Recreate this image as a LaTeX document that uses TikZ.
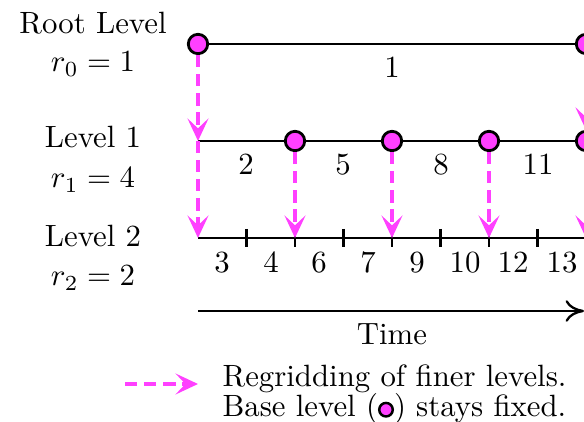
\documentclass[tikz,border=0pt]{standalone}
\usetikzlibrary{arrows.meta}
\definecolor{regrid}{RGB}{255,64,255}
\tikzset{
  lvl/.style={line width=0.75pt},
  fixedpt/.style={circle,draw=black,fill=regrid,line width=0.9pt,minimum size=6.3pt,inner sep=0pt},
  smallpt/.style={circle,draw=black,fill=regrid,line width=0.8pt,minimum size=4.4pt,inner sep=0pt},
  regridarrow/.style={draw=regrid,line width=1.2pt,dash pattern=on 4pt off 2.2pt,
     -{Stealth[length=7.3pt,width=6.8pt,inset=3.2pt,fill=regrid]}},
  tickmark/.style={line width=0.75pt},
  lab/.style={anchor=base,inner sep=0pt},
  timearrow/.style={line width=0.75pt,-{Computer Modern Rightarrow[length=6pt,width=7pt]}}
}
\begin{document}
\begin{tikzpicture}[x=0.3247pt,y=-0.3247pt]
\useasboundingbox (0,0) rectangle (584,422);

% left labels
\node[lab] (t0) at (93,34) {Root Level};
\node[lab] (t0r) at (93,72) {$r_0 = 1$};
\node[lab] (t1) at (93,148) {Level 1};
\node[lab] (t1r) at (93,188) {$r_1 = 4$};
\node[lab] (t2) at (93,247) {Level 2};
\node[lab] (t2r) at (93,286) {$r_2 = 2$};

% root level
\node[fixedpt] (r0a) at (198,44) {};
\node[fixedpt] (r0b) at (586,44) {};
\draw[lvl] (r0a) -- (r0b);
\node[lab] (n1) at (392,78) {1};

% level 1
\coordinate (l1s) at (198,141);
\node[fixedpt] (l1a) at (295,141) {};
\node[fixedpt] (l1b) at (392,141) {};
\node[fixedpt] (l1c) at (489,141) {};
\node[fixedpt] (l1d) at (586,141) {};
\draw[lvl] (l1s) -- (l1a) -- (l1b) -- (l1c) -- (l1d);
\node[lab] (n2) at (246,175) {2};
\node[lab] (n5) at (343,175) {5};
\node[lab] (n8) at (441,175) {8};
\node[lab] (n11) at (538,175) {11};

% level 2
\coordinate (l2s) at (198,238);
\coordinate (l2e) at (586,238);
\draw[lvl] (l2s) -- (l2e);
\foreach \x/\n in {246.5/ta,295/tb,343.5/tc,392/td,440.5/te,489/tf,537.5/tg,586/th}{
  \coordinate (\n) at (\x,238);
  \draw[tickmark] ([yshift=9*0.3247pt]\n) -- ([yshift=-9*0.3247pt]\n);
}
\foreach \x/\t in {222/3,271/4,319/6,368/7,417/9,465/10,513/12,562/13}{
  \node[lab] at (\x,273) {\t};
}

% regridding arrows
\draw[regridarrow] (r0a) -- (l1s);
\draw[regridarrow] (r0b) -- (l1d);
\draw[regridarrow] (l1s) -- (l2s);
\draw[regridarrow] (l1a) -- (tb);
\draw[regridarrow] (l1b) -- (td);
\draw[regridarrow] (l1c) -- (tf);
\draw[regridarrow] (l1d) -- (th);

% time axis
\coordinate (ts) at (198,311);
\coordinate (te) at (584,311);
\draw[timearrow] (ts) -- (te);
\node[lab] (time) at (392,345) {Time};

% legend
\coordinate (lg1) at (125,384);
\coordinate (lg2) at (198,384);
\draw[regridarrow] (lg1) -- (lg2);
\node[anchor=base west,inner sep=0pt] (leg1) at (222,387) {Regridding of finer levels.};
\node[anchor=base west,inner sep=0pt] (leg2) at (222,417) {Base level (\tikz[baseline=-0.55ex]\node[smallpt]{};) stays fixed.};
\end{tikzpicture}
\end{document}
